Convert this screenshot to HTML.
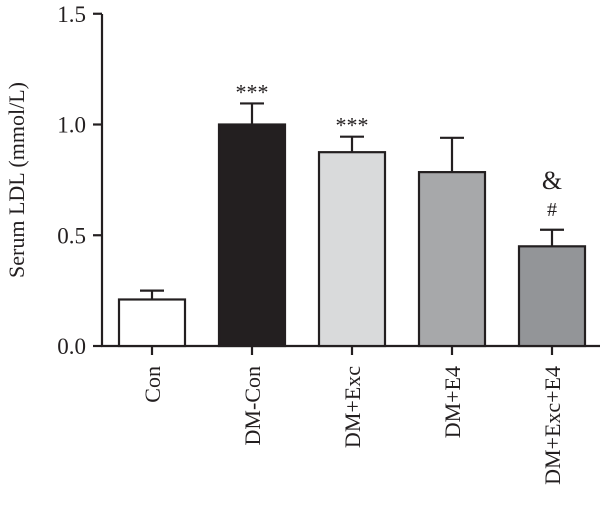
<!DOCTYPE html>
<html><head><meta charset="utf-8"><style>body{margin:0;background:#fff}svg{display:block}text{font-family:"Liberation Serif",serif;fill:#231f20}</style></head>
<body>
<svg id="c" width="600" height="517"></svg>
<script>
const categories=["Con","DM-Con","DM+Exc","DM+E4","DM+Exc+E4"];
const values=[0.21,1.0,0.875,0.785,0.45];
const errors=[0.04,0.095,0.07,0.155,0.075];
const annotations=["","***","***","",""];
const yTicks=[0,0.5,1.0,1.5];
const yTickLabels=["0.0","0.5","1.0","1.5"];
const fills=["#ffffff","#231f20","#d9dadb","#a7a8aa","#939598"];
const ns="http://www.w3.org/2000/svg",svg=document.getElementById('c');
const y=v=>346-v*221.5, x=i=>152+i*100;
function mk(t,a,p){const e=document.createElementNS(ns,t);for(const k in a)e.setAttribute(k,a[k]);(p||svg).appendChild(e);return e;}
const st={stroke:"#231f20","stroke-width":2.2,fill:"none"};
let ax=mk('line',Object.assign({x1:102,y1:14,x2:102,y2:347},st));

let bx=mk('line',Object.assign({x1:101,y1:346,x2:600,y2:346},st));

yTicks.forEach((v,i)=>{
 let t=mk('line',Object.assign({x1:93,y1:y(v),x2:102,y2:y(v)},st));
 
 let l=mk('text',{x:86,y:y(v)+8,"text-anchor":"end","font-size":23});l.textContent=yTickLabels[i];
 
});
let yt=mk('text',{transform:"translate(24,180) rotate(-90)","text-anchor":"middle","font-size":22});
yt.textContent="Serum LDL (mmol/L)";

categories.forEach((c,i)=>{
 const cx=x(i);
 let e=mk('line',Object.assign({x1:cx,y1:y(values[i]+errors[i]),x2:cx,y2:y(values[i])},st));
 
 let cap=mk('line',Object.assign({x1:cx-12,y1:y(values[i]+errors[i]),x2:cx+12,y2:y(values[i]+errors[i])},st));
 
 let b=mk('rect',{x:cx-33,y:y(values[i]),width:66,height:y(0)-y(values[i]),fill:fills[i],stroke:"#231f20","stroke-width":2.2});
 
 let t=mk('line',Object.assign({x1:cx,y1:346,x2:cx,y2:355},st));
 
 let l=mk('text',{transform:`translate(${cx+8},366) rotate(-90)`,"text-anchor":"end","font-size":22});l.textContent=c;
 
 if(annotations[i]){let a=mk('text',{x:cx,y:y(values[i]+errors[i])-4,"text-anchor":"middle","font-size":22});a.textContent=annotations[i];
 }
});
let h=mk('text',{x:x(4),y:216,"text-anchor":"middle","font-size":20});h.textContent="#";

let am=mk('text',{x:x(4),y:189,"text-anchor":"middle","font-size":26});am.textContent="&";

</script>
</body></html>
